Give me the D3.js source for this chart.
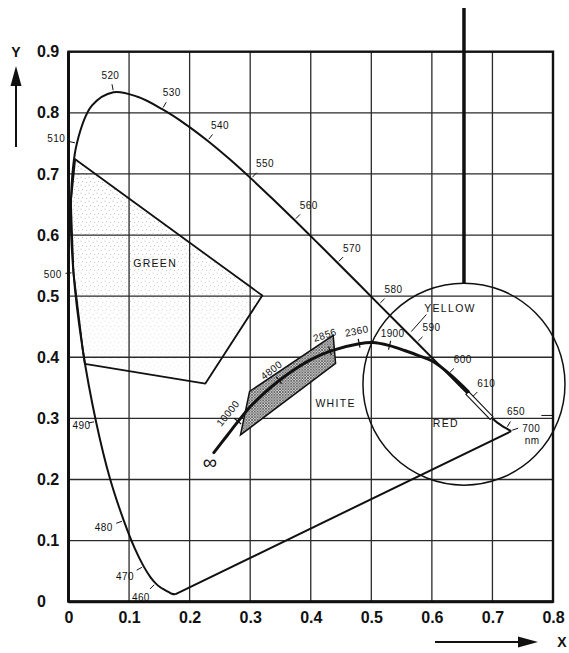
<!DOCTYPE html>
<html><head><meta charset="utf-8">
<script src="https://cdn.jsdelivr.net/npm/d3@7"></script>
<style>body{margin:0;background:#fff}</style>
</head><body>
<svg id="c" width="569" height="653"></svg>
<script>
// ---- data ----
const xTicks = [0, 0.1, 0.2, 0.3, 0.4, 0.5, 0.6, 0.7, 0.8];
const xTickLabels = ["0", "0.1", "0.2", "0.3", "0.4", "0.5", "0.6", "0.7", "0.8"];
const yTicks = [0, 0.1, 0.2, 0.3, 0.4, 0.5, 0.6, 0.7, 0.8, 0.9];
const yTickLabels = ["0", "0.1", "0.2", "0.3", "0.4", "0.5", "0.6", "0.7", "0.8", "0.9"];

const locusNm = [380, 430, 440, 450, 455, 460, 465, 470, 475, 480, 485, 490, 495, 500, 505, 510, 515, 520, 525, 530, 535, 540, 545, 550, 555, 560, 565, 570, 575, 580, 585, 590, 595, 600, 605, 610, 615, 620, 625, 630, 640, 650, 700];
const locusX = [0.1760, 0.1705, 0.1650, 0.1575, 0.1510, 0.1440, 0.1355, 0.1241, 0.1096, 0.0913, 0.0687, 0.0454, 0.0235, 0.0082, 0.0039, 0.0139, 0.0389, 0.0743, 0.1142, 0.1547, 0.1929, 0.2296, 0.2658, 0.3016, 0.3373, 0.3731, 0.4087, 0.4441, 0.4788, 0.5125, 0.5448, 0.5752, 0.6029, 0.6270, 0.6482, 0.6658, 0.6801, 0.6915, 0.7006, 0.7080, 0.7170, 0.7230, 0.7310];
const locusY = [0.0120, 0.0130, 0.0160, 0.0200, 0.0240, 0.0300, 0.0399, 0.0578, 0.0868, 0.1327, 0.2007, 0.2950, 0.4127, 0.5384, 0.6548, 0.7502, 0.8120, 0.8338, 0.8262, 0.8059, 0.7816, 0.7543, 0.7243, 0.6923, 0.6589, 0.6245, 0.5896, 0.5547, 0.5202, 0.4866, 0.4544, 0.4242, 0.3965, 0.3725, 0.3514, 0.3340, 0.3197, 0.3083, 0.2993, 0.2930, 0.2870, 0.2835, 0.2790];
const locusLabels = [460, 470, 480, 490, 500, 510, 520, 530, 540, 550, 560, 570, 580, 590, 600, 610, 650];

const planckX = [0.240, 0.262, 0.280, 0.300, 0.325, 0.348, 0.375, 0.400, 0.432, 0.480, 0.502, 0.530, 0.555, 0.580, 0.602, 0.630, 0.660];
const planckY = [0.244, 0.272, 0.295, 0.319, 0.343, 0.362, 0.381, 0.396, 0.410, 0.422, 0.424, 0.419, 0.411, 0.402, 0.393, 0.372, 0.344];
const planckLabels = ["∞", "", "10000", "", "", "4800", "", "", "2856", "2360", "", "1900", "", "", "", "", ""];

const greenX = [0.011, 0.320, 0.226, 0.027, 0.0235, 0.0082, 0.0039];
const greenY = [0.724, 0.501, 0.357, 0.389, 0.4127, 0.5384, 0.6548];

const whiteX = [0.284, 0.299, 0.437, 0.441];
const whiteY = [0.273, 0.344, 0.436, 0.390];

const redBandX = [0.660, 0.700];
const redBandY = [0.343, 0.302];

const circleCenter = [0.653, 0.356];
const circleRadius = 0.1668;

const regionNames = ["GREEN", "WHITE", "YELLOW", "RED"];
const regionX = [0.143, 0.441, 0.630, 0.623];
const regionY = [0.554, 0.325, 0.480, 0.292];

// ---- drawing ----
const svg = d3.select("#c");
const x = d3.scaleLinear().domain([0, 0.8]).range([68.5, 553]);
const y = d3.scaleLinear().domain([0, 0.9]).range([601.7, 51.7]);
const FONT = "'Liberation Sans', Arial, sans-serif";

const defs = svg.append("defs");
const stip = defs.append("pattern").attr("id", "stip").attr("patternUnits", "userSpaceOnUse").attr("width", 8).attr("height", 8);
[[1, 1], [5, 2.5], [2.5, 5.5], [6.5, 6.5]].forEach(d => stip.append("circle").attr("cx", d[0]).attr("cy", d[1]).attr("r", 0.5).attr("fill", "#9a9a9a"));
const grad = defs.append("linearGradient").attr("id", "fade").attr("x1", 0).attr("y1", 0).attr("x2", 0).attr("y2", 1);
grad.append("stop").attr("offset", "0").attr("stop-color", "#fff").attr("stop-opacity", 0.95);
grad.append("stop").attr("offset", "0.5").attr("stop-color", "#fff").attr("stop-opacity", 0.7);
grad.append("stop").attr("offset", "1").attr("stop-color", "#fff").attr("stop-opacity", 0.2);
const mask = defs.append("mask").attr("id", "gmask");
mask.append("rect").attr("x", x(0)).attr("y", y(0.73)).attr("width", x(0.33) - x(0)).attr("height", y(0.35) - y(0.73)).attr("fill", "url(#fade)");
const hatch = defs.append("pattern").attr("id", "hatch").attr("patternUnits", "userSpaceOnUse").attr("width", 2.8).attr("height", 2.8);
hatch.append("rect").attr("width", 2.8).attr("height", 2.8).attr("fill", "#d8d8d8");
hatch.append("path").attr("d", "M0,0L2.8,2.8M2.8,0L0,2.8").attr("stroke", "#444").attr("stroke-width", 0.7);

// green stippled region
const greenPts = greenX.map((v, i) => [x(v), y(greenY[i])]);
svg.append("polygon").attr("points", greenPts.map(p => p.join(",")).join(" "))
  .attr("fill", "url(#stip)").attr("mask", "url(#gmask)");

// grid
const gridG = svg.append("g");
gridG.selectAll("line.v").data(xTicks.slice(1, -1)).join("line")
  .attr("x1", d => x(d)).attr("x2", d => x(d)).attr("y1", y(0.9)).attr("y2", y(0))
  .attr("stroke", "#2a2a2a").attr("stroke-width", 1.3);
gridG.selectAll("line.h").data(yTicks.slice(1, -1)).join("line")
  .attr("y1", d => y(d)).attr("y2", d => y(d)).attr("x1", x(0)).attr("x2", x(0.8))
  .attr("stroke", "#2a2a2a").attr("stroke-width", 1.3);

// axes with labels
const xAxis = svg.append("g").attr("transform", `translate(0,${y(0)})`)
  .call(d3.axisBottom(x).tickValues(xTicks).tickSize(0).tickPadding(10).tickFormat((d, i) => xTickLabels[i]));
const yAxis = svg.append("g").attr("transform", `translate(${x(0)},0)`)
  .call(d3.axisLeft(y).tickValues(yTicks).tickSize(0).tickPadding(8).tickFormat((d, i) => yTickLabels[i]));
[xAxis, yAxis].forEach(a => {
  a.select(".domain").remove();
  a.selectAll("text").attr("font-family", FONT).attr("font-size", 16).attr("font-weight", "bold").attr("fill", "#111");
});
yAxis.selectAll("text").attr("text-anchor", "start").attr("x", 37 - x(0));

// frame
svg.append("rect").attr("x", x(0)).attr("y", y(0.9)).attr("width", x(0.8) - x(0)).attr("height", y(0) - y(0.9))
  .attr("fill", "none").attr("stroke", "#111").attr("stroke-width", 2.4);
svg.append("line").attr("x1", x(0)).attr("x2", x(0)).attr("y1", y(0.9)).attr("y2", y(0)).attr("stroke", "#111").attr("stroke-width", 3);
svg.append("line").attr("x1", x(0)).attr("x2", x(0.8)).attr("y1", y(0)).attr("y2", y(0)).attr("stroke", "#111").attr("stroke-width", 3);

// green outline
svg.append("polygon").attr("points", greenPts.map(p => p.join(",")).join(" "))
  .attr("fill", "none").attr("stroke", "#111").attr("stroke-width", 1.8).attr("stroke-linejoin", "round");

// white hatched region
const whitePts = whiteX.map((v, i) => [x(v), y(whiteY[i])]);
svg.append("polygon").attr("points", whitePts.map(p => p.join(",")).join(" "))
  .attr("fill", "url(#hatch)").attr("stroke", "#111").attr("stroke-width", 1.5);

// spectral locus
const locusPts = locusX.map((v, i) => [x(v), y(locusY[i])]);
const line = d3.line().curve(d3.curveCatmullRom.alpha(0.5));
svg.append("path").attr("d", line(locusPts)).attr("fill", "none").attr("stroke", "#111").attr("stroke-width", 2);
// purple line
svg.append("line").attr("x1", locusPts[locusPts.length - 1][0]).attr("y1", locusPts[locusPts.length - 1][1])
  .attr("x2", locusPts[0][0]).attr("y2", locusPts[0][1]).attr("stroke", "#111").attr("stroke-width", 2);

// red band
{
  const a = [x(redBandX[0]), y(redBandY[0])], b = [x(redBandX[1]), y(redBandY[1])];
  const dx = b[0] - a[0], dy = b[1] - a[1], L = Math.hypot(dx, dy);
  const nx = dy / L * 3.2, ny = -dx / L * 3.2;
  const pts = [[a[0] - nx, a[1] - ny], [b[0] - nx, b[1] - ny], [b[0] + nx * 0.2, b[1] + ny * 0.2], [a[0] + nx * 0.2, a[1] + ny * 0.2]];
  svg.append("polygon").attr("points", pts.map(p => p.join(",")).join(" ")).attr("fill", "#fff").attr("stroke", "#111").attr("stroke-width", 1.1);
}

// circle + vertical bar
const cx = x(circleCenter[0]), cy = y(circleCenter[1]), cr = x(circleRadius) - x(0);
svg.append("circle").attr("cx", cx).attr("cy", cy).attr("r", cr).attr("fill", "none").attr("stroke", "#111").attr("stroke-width", 1.5);
svg.append("line").attr("x1", cx).attr("x2", cx).attr("y1", 8).attr("y2", cy - cr).attr("stroke", "#111").attr("stroke-width", 3.5);

// Planckian locus
const planckPts = planckX.map((v, i) => [x(v), y(planckY[i])]);
svg.append("path").attr("d", line(planckPts)).attr("fill", "none").attr("stroke", "#111").attr("stroke-width", 3).attr("stroke-linecap", "round");

function tangentAt(pts, i) {
  const a = pts[Math.max(0, i - 1)], b = pts[Math.min(pts.length - 1, i + 1)];
  const dx = b[0] - a[0], dy = b[1] - a[1], L = Math.hypot(dx, dy);
  return [dx / L, dy / L];
}

// Planck labels + ticks
planckLabels.forEach((lab, i) => {
  if (!lab) return;
  const p = planckPts[i];
  if (lab === "∞") {
    svg.append("text").attr("x", p[0] - 4).attr("y", p[1] + 16).attr("text-anchor", "middle")
      .attr("font-family", FONT).attr("font-size", 20).attr("fill", "#111").text(lab);
    return;
  }
  const t = tangentAt(planckPts, i);
  let n = [t[1], -t[0]];
  if (n[1] > 0) n = [-n[0], -n[1]];
  svg.append("line").attr("x1", p[0] - n[0] * 4).attr("y1", p[1] - n[1] * 4).attr("x2", p[0] + n[0] * 5).attr("y2", p[1] + n[1] * 5)
    .attr("stroke", "#111").attr("stroke-width", 1.2);
  let ang = Math.atan2(t[1], t[0]) * 180 / Math.PI;
  if (ang > -5) ang = 0;
  const off = lab === "2856" ? 17 : 13;
  const lx = p[0] + n[0] * off, ly = p[1] + n[1] * off;
  svg.append("text").attr("transform", `translate(${lx},${ly}) rotate(${ang})`).attr("text-anchor", "middle").attr("dy", "0.35em")
    .attr("font-family", FONT).attr("font-size", 10).attr("letter-spacing", 0.4).attr("fill", "#111").text(lab);
});

// wavelength labels
const c0 = [x(0.33), y(0.33)];
locusLabels.forEach(nm => {
  const i = locusNm.indexOf(nm);
  const p = locusPts[i];
  const t = tangentAt(locusPts, i);
  let n = [t[1], -t[0]];
  if (n[0] * (p[0] - c0[0]) + n[1] * (p[1] - c0[1]) < 0) n = [-n[0], -n[1]];
  svg.append("line").attr("x1", p[0] + n[0] * 2).attr("y1", p[1] + n[1] * 2).attr("x2", p[0] + n[0] * 8).attr("y2", p[1] + n[1] * 8)
    .attr("stroke", "#111").attr("stroke-width", 1);
  const d = 11 + Math.abs(n[0]) * 9.5 + Math.abs(n[1]) * 4;
  let lx = p[0] + n[0] * d;
  const ly = p[1] + n[1] * d;
  if (p[1] > y(0.35) && lx < x(0) + 13) lx = x(0) + 13; // keep inside the frame
  svg.append("text").attr("x", lx).attr("y", ly).attr("dy", "0.35em").attr("text-anchor", "middle")
    .attr("font-family", FONT).attr("font-size", 10).attr("letter-spacing", 0.4).attr("fill", "#111").text(nm);
});
// 700 nm end label
{
  const p = locusPts[locusPts.length - 1];
  svg.append("line").attr("x1", p[0] + 1).attr("y1", p[1] - 1).attr("x2", p[0] + 7).attr("y2", p[1] - 3).attr("stroke", "#111").attr("stroke-width", 1);
  svg.append("text").attr("x", p[0] + 20).attr("y", p[1] - 3).attr("dy", "0.35em").attr("text-anchor", "middle")
    .attr("font-family", FONT).attr("font-size", 10).attr("letter-spacing", 0.4).attr("fill", "#111").text("700");
  svg.append("text").attr("x", p[0] + 21).attr("y", p[1] + 9).attr("dy", "0.35em").attr("text-anchor", "middle")
    .attr("font-family", FONT).attr("font-size", 10).attr("letter-spacing", 0.4).attr("fill", "#111").text("nm");
  const q = locusPts[locusNm.indexOf(650)];
  svg.append("line").attr("x1", q[0] + 35).attr("x2", q[0] + 46).attr("y1", q[1] - 13).attr("y2", q[1] - 13).attr("stroke", "#111").attr("stroke-width", 1);
}

// region names
regionNames.forEach((nmx, i) => {
  svg.append("text").attr("x", x(regionX[i])).attr("y", y(regionY[i])).attr("dy", "0.35em").attr("text-anchor", "middle")
    .attr("font-family", FONT).attr("font-size", 10.5).attr("letter-spacing", 1.3).attr("fill", "#111").text(nmx);
});
// yellow leader
svg.append("line").attr("x1", x(0.591)).attr("y1", y(0.470)).attr("x2", x(0.566)).attr("y2", y(0.442)).attr("stroke", "#111").attr("stroke-width", 1);

// axis arrows
svg.append("line").attr("x1", 16).attr("x2", 16).attr("y1", 147).attr("y2", 80).attr("stroke", "#111").attr("stroke-width", 2);
svg.append("polygon").attr("points", "16,66 10.5,86 21.5,86").attr("fill", "#111");
svg.append("text").attr("x", 16).attr("y", 52).attr("dy", "0.35em").attr("text-anchor", "middle")
  .attr("font-family", FONT).attr("font-size", 14).attr("font-weight", "bold").attr("fill", "#111").text("Y");
svg.append("line").attr("x1", 435).attr("x2", 522).attr("y1", 642).attr("y2", 642).attr("stroke", "#111").attr("stroke-width", 2);
svg.append("polygon").attr("points", "538,642 518,636.5 518,647.5").attr("fill", "#111");
svg.append("text").attr("x", 562).attr("y", 642).attr("dy", "0.35em").attr("text-anchor", "middle")
  .attr("font-family", FONT).attr("font-size", 14).attr("font-weight", "bold").attr("fill", "#111").text("X");
</script>
</body></html>
